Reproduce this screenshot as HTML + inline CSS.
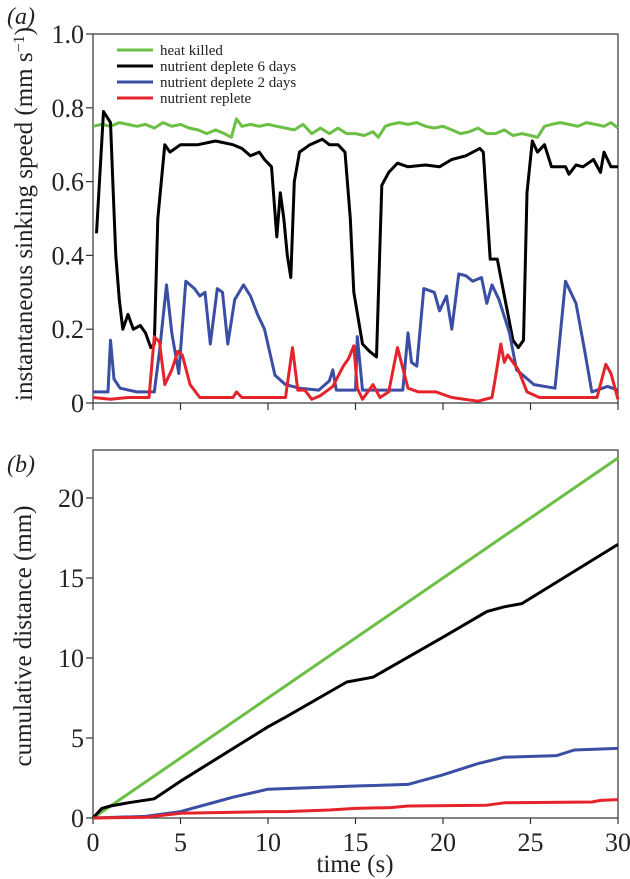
<!DOCTYPE html>
<html><head><meta charset="utf-8"><style>
html,body{margin:0;padding:0;background:#fff;}
svg{display:block;font-family:"Liberation Serif",serif;}
</style></head><body>
<svg id="chart" width="630" height="879" viewBox="0 0 630 879"></svg>
<script>
// ---- Panel (a) data: instantaneous sinking speed ----
const aSeriesNames = ["heat killed","nutrient deplete 6 days","nutrient deplete 2 days","nutrient replete"];
const greenT = [0,0.5,1,1.5,2,2.5,3,3.5,4,4.5,5,5.5,6,6.5,7,7.5,7.9,8.2,8.5,9,9.5,10,10.5,11,11.5,12,12.5,13,13.5,14,14.5,15,15.5,16,16.3,16.7,17,17.5,18,18.5,19,19.5,20,20.5,21,21.5,22,22.5,23,23.5,24,24.5,25,25.4,25.8,26.2,26.7,27.2,27.7,28.2,28.7,29.2,29.6,30];
const greenV = [0.75,0.755,0.75,0.76,0.755,0.75,0.755,0.745,0.76,0.75,0.755,0.745,0.74,0.73,0.74,0.73,0.72,0.77,0.75,0.755,0.75,0.755,0.75,0.745,0.74,0.755,0.73,0.745,0.73,0.745,0.73,0.73,0.725,0.735,0.72,0.75,0.755,0.76,0.755,0.76,0.75,0.745,0.75,0.74,0.73,0.735,0.745,0.73,0.73,0.74,0.725,0.73,0.725,0.72,0.75,0.755,0.76,0.755,0.75,0.76,0.755,0.75,0.76,0.745];
const blackT = [0.2,0.6,1.0,1.15,1.3,1.5,1.7,2.0,2.3,2.7,3.0,3.3,3.5,3.7,4.1,4.4,5,6,7,8,8.5,9,9.5,9.8,10.2,10.5,10.7,10.9,11.1,11.3,11.5,11.8,12.4,13.1,13.5,14,14.4,14.7,14.9,15.4,15.8,16.2,16.5,16.9,17.4,18,19,19.8,20.5,21.3,22.1,22.3,22.7,23.1,23.3,24,24.3,24.6,24.8,25.1,25.4,25.8,26.2,27.0,27.2,27.6,28.0,28.6,29.0,29.2,29.6,30];
const blackV = [0.46,0.79,0.76,0.58,0.40,0.28,0.20,0.24,0.20,0.21,0.19,0.15,0.16,0.50,0.70,0.68,0.70,0.70,0.71,0.70,0.69,0.67,0.68,0.66,0.64,0.45,0.57,0.50,0.40,0.34,0.60,0.68,0.70,0.715,0.70,0.70,0.68,0.50,0.30,0.16,0.14,0.125,0.59,0.625,0.65,0.64,0.645,0.64,0.66,0.67,0.69,0.68,0.39,0.39,0.34,0.17,0.15,0.17,0.57,0.71,0.68,0.70,0.64,0.64,0.62,0.645,0.64,0.66,0.625,0.68,0.64,0.64];
const blueT = [0,0.86,1.0,1.2,1.55,2.5,3.5,3.8,4.2,4.5,4.9,5.3,5.8,6.1,6.4,6.7,7.1,7.4,7.7,8.1,8.6,9,9.4,9.8,10.4,11,11.8,12.9,13.5,13.7,13.9,15,15.1,15.4,17.7,18,18.2,18.5,18.9,19.5,19.8,20.2,20.5,20.9,21.3,21.7,22.2,22.5,22.8,23.2,23.8,24.2,25.2,26.4,27.0,27.6,28.1,28.5,29.4,30];
const blueV = [0.03,0.03,0.17,0.065,0.04,0.03,0.03,0.14,0.32,0.19,0.08,0.33,0.31,0.29,0.30,0.16,0.31,0.30,0.16,0.28,0.32,0.29,0.24,0.20,0.075,0.05,0.04,0.035,0.06,0.09,0.035,0.035,0.18,0.035,0.035,0.19,0.11,0.10,0.31,0.30,0.25,0.29,0.20,0.35,0.345,0.33,0.34,0.27,0.32,0.28,0.19,0.09,0.05,0.04,0.33,0.27,0.14,0.03,0.045,0.035];
const redT = [0,1,2,3.2,3.5,3.8,4.1,4.5,4.85,5.1,5.55,6.1,7,8,8.2,8.5,9.5,11,11.4,11.7,12.1,12.5,13,13.7,14.3,14.6,14.9,15.1,15.4,16,16.4,16.9,17.4,18,18.6,19.6,20.5,22,22.8,23,23.3,23.5,23.7,24.3,24.8,25.5,27,28.8,29.3,29.6,30];
const redV = [0.015,0.01,0.015,0.015,0.18,0.165,0.05,0.09,0.14,0.13,0.05,0.015,0.015,0.015,0.03,0.015,0.015,0.015,0.15,0.035,0.035,0.01,0.02,0.045,0.10,0.12,0.155,0.04,0.01,0.05,0.015,0.03,0.15,0.04,0.03,0.03,0.015,0.005,0.015,0.07,0.16,0.11,0.13,0.09,0.03,0.015,0.015,0.015,0.105,0.08,0.01];
const aYTicks = [0,0.2,0.4,0.6,0.8,1.0];
const aYTickLabels = ["0","0.2","0.4","0.6","0.8","1.0"];
// ---- Panel (b) data: cumulative distance ----
const cumGreenT = [0,30];
const cumGreenV = [0,22.5];
const cumBlackT = [0,0.5,1,2,3.5,5,10,11,14.5,16,20,22.5,23.5,24.5,30];
const cumBlackV = [0,0.6,0.75,0.95,1.2,2.3,5.7,6.3,8.5,8.8,11.3,12.9,13.2,13.4,17.1];
const cumBlueT = [0,3,5,7,8,10,15,18,20,22,23.5,26.5,27.5,30];
const cumBlueV = [0,0.1,0.4,1,1.3,1.8,2,2.1,2.7,3.4,3.8,3.9,4.25,4.35];
const cumRedT = [0,3,5,10,11,13.5,15,17,18,22.5,23.5,28.5,29,30];
const cumRedV = [0,0.05,0.3,0.4,0.4,0.5,0.6,0.65,0.75,0.8,0.95,1,1.1,1.15];
const xTicks = [0,5,10,15,20,25,30];
const xTickLabels = ["0","5","10","15","20","25","30"];
const bYTicks = [0,5,10,15,20];
const bYTickLabels = ["0","5","10","15","20"];

const COLORS = ["#6cbf45","#000000","#3a4ea3","#e5232a"];
const NS = "http://www.w3.org/2000/svg";
const svg = document.getElementById("chart");
function mk(tag, attrs, parent){const e=document.createElementNS(NS,tag);for(const k in attrs)e.setAttribute(k,attrs[k]);(parent||svg).appendChild(e);return e;}

const X0=93, X1=618;
function xs(t){return X0+(t/30)*(X1-X0);}
const A_Y0=403, A_Y1=34;
function yA(v){return A_Y0-(v/1.0)*(A_Y0-A_Y1);}
const B_Y0=818, B_Y20=498, B_TOP=450;
function yB(v){return B_Y0-(v/20)*(B_Y0-B_Y20);}

function line(ts,vs,yf,color,name){
  const d=ts.map((t,i)=>(i?"L":"M")+xs(t).toFixed(1)+","+yf(vs[i]).toFixed(1)).join(" ");
  const p=mk("path",{d:d,fill:"none",stroke:color,"stroke-width":3,"stroke-linejoin":"round"});
  
  
}

const fa=mk("rect",{x:X0,y:A_Y1,width:X1-X0,height:A_Y0-A_Y1,fill:"none",stroke:"#333","stroke-width":1.2});


aYTicks.forEach((v,i)=>{
  const tk=mk("line",{x1:X0-7,x2:X0,y1:yA(v),y2:yA(v),stroke:"#333","stroke-width":1.2});
  
  
  const tl=mk("text",{x:X0-9,y:yA(v)+9,"text-anchor":"end","font-size":26,fill:"#222"});
  tl.textContent=aYTickLabels[i];
  
  
});
xTicks.forEach(t=>{
  const tk=mk("line",{x1:xs(t),x2:xs(t),y1:A_Y0,y2:A_Y0+7,stroke:"#333","stroke-width":1.2});
  
  
});
line(greenT,greenV,yA,COLORS[0],"heat-killed-speed-line");
line(blackT,blackV,yA,COLORS[1],"deplete-6-days-speed-line");
line(blueT,blueV,yA,COLORS[2],"deplete-2-days-speed-line");
line(redT,redV,yA,COLORS[3],"replete-speed-line");

aSeriesNames.forEach((n,i)=>{
  const y=50+i*16;
  const g=mk("g",{});
  
  
  mk("line",{x1:117,x2:153,y1:y,y2:y,stroke:COLORS[i],"stroke-width":3},g);
  const t=mk("text",{x:160,y:y+5,"font-size":15,fill:"#222"},g);
  t.textContent=n;
});

const fb=mk("rect",{x:X0,y:B_TOP,width:X1-X0,height:B_Y0-B_TOP,fill:"none",stroke:"#333","stroke-width":1.2});


bYTicks.forEach((v,i)=>{
  const tk=mk("line",{x1:X0-7,x2:X0,y1:yB(v),y2:yB(v),stroke:"#333","stroke-width":1.2});
  
  
  const tl=mk("text",{x:X0-9,y:yB(v)+9,"text-anchor":"end","font-size":26,fill:"#222"});
  tl.textContent=bYTickLabels[i];
  
  
});
xTicks.forEach((t,i)=>{
  const tk=mk("line",{x1:xs(t),x2:xs(t),y1:B_Y0,y2:B_Y0+6,stroke:"#333","stroke-width":1.2});
  
  
  const tl=mk("text",{x:xs(t),y:851,"text-anchor":"middle","font-size":26,fill:"#222"});
  tl.textContent=xTickLabels[i];
  
  
});
line(cumGreenT,cumGreenV,yB,COLORS[0],"heat-killed-distance-line");
line(cumBlackT,cumBlackV,yB,COLORS[1],"deplete-6-days-distance-line");
line(cumBlueT,cumBlueV,yB,COLORS[2],"deplete-2-days-distance-line");
line(cumRedT,cumRedV,yB,COLORS[3],"replete-distance-line");
</script>
<svg width="630" height="879" style="position:absolute;left:0;top:0;font-family:'Liberation Serif',serif;">
<text x="7" y="24" font-size="24" font-style="italic" fill="#222">(a)</text>
<text x="7" y="472" font-size="24" font-style="italic" fill="#222">(b)</text>
<text transform="translate(32,214) rotate(-90)" text-anchor="middle" font-size="25" fill="#222">instantaneous sinking speed (mm s<tspan baseline-shift="super" font-size="16">−1</tspan>)</text>
<text transform="translate(31,636) rotate(-90)" text-anchor="middle" font-size="25" fill="#222">cumulative distance (mm)</text>
<text x="355" y="872" text-anchor="middle" font-size="25" fill="#222">time (s)</text>
</svg>
</body></html>
